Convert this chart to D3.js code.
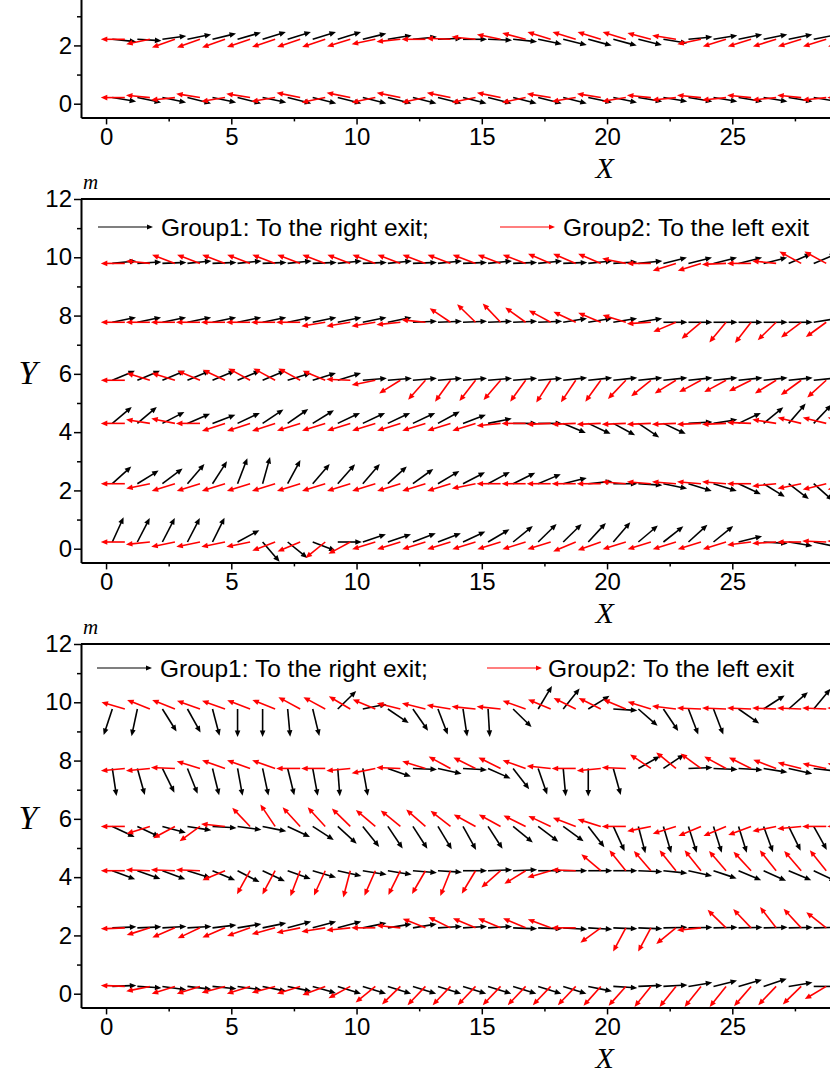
<!DOCTYPE html>
<html><head><meta charset="utf-8">
<script src="https://cdn.jsdelivr.net/npm/d3@7"></script>
<style>body{margin:0;background:#fff}svg{display:block}</style>
</head><body>
<svg id="c" width="830" height="1075"></svg>
<script>
// ---------- data ----------
const xTicks = [0, 5, 10, 15, 20, 25];
const xMinor = [2.5, 7.5, 12.5, 17.5, 22.5, 27.5];
const yTicks = [0, 2, 4, 6, 8, 10, 12];
const yMinor = [1, 3, 5, 7, 9, 11];
const blackStartX = 0.25;   // first Group1 vector tail (m)
const redStartX = 0.75;     // first Group2 vector tail (m)
const vectorLength = 0.96;  // m
const legendLabels = ["Group1: To the right exit;", "Group2: To the left exit"];

// vector directions in degrees (0 = +X, 90 = +Y), one entry per pedestrian, 1 m apart
const p1Rows = [0.21, 2.21];
const p1Black = [
 [-8,-10,-10,-12,-10,-12,-10,-12,-12,-12,-12,-12,-12,-12,-12,-12,-12,-12,-12,-10,-10,-8,-8,-8,-8,-8,-8,-8,-8],
 [-5,-3,7,10,12,14,15,15,15,15,12,8,5,2,0,-2,-5,-10,-12,-13,-13,-12,-8,5,8,10,10,10,10]
];
const p1Red = [
 [180,175,185,172,188,172,188,170,190,170,190,170,190,170,190,170,190,172,188,172,188,175,185,175,185,175,185,175,185,180],
 [180,190,197,197,197,196,196,196,196,195,190,185,180,178,175,170,167,165,165,165,165,167,172,190,195,195,195,195,195,195]
];

const p2Rows = [0.23, 2.23, 4.30, 5.78, 7.77, 9.79];
const p2Black = [
 [62,59,59,59,60,25,-45,-35,-18,0,16,16,18,18,22,27,35,40,40,43,45,36,34,38,35,12,-3,-8,-10],
 [38,28,33,45,53,66,72,58,45,44,45,38,32,27,24,25,23,20,12,5,0,-3,-10,-15,-15,-22,-28,-33,-37],
 [36,36,24,20,18,22,30,31,28,22,22,22,22,25,18,10,0,0,-20,-22,-25,-30,-22,3,8,22,35,45,42],
 [20,20,20,20,20,20,20,15,15,15,4,4,4,4,4,4,4,4,5,5,5,5,5,5,5,5,5,5,5],
 [10,10,10,10,10,10,10,10,10,10,10,10,2,2,2,2,2,2,8,8,8,8,0,0,0,0,0,0,8],
 [5,3,2,5,2,5,2,5,2,5,2,5,2,5,2,5,2,5,2,5,3,5,12,12,12,12,12,20,20]
];
const p2Red = [
 [180,185,190,190,190,190,198,200,215,205,195,195,195,195,195,195,195,195,200,197,195,195,195,195,195,186,183,180,178,178],
 [180,190,195,195,195,195,195,195,195,195,195,195,195,195,190,180,180,180,180,180,176,176,176,176,176,180,185,190,192,192],
 [180,172,170,180,196,196,196,195,195,195,195,195,195,195,195,185,180,182,182,182,182,182,182,182,182,178,172,168,168,168],
 [180,165,165,160,158,155,155,155,160,178,190,208,224,230,228,225,230,233,232,230,222,215,208,205,205,203,208,212,218,220],
 [180,180,180,180,180,180,180,180,188,188,188,185,175,150,140,138,148,155,158,160,165,183,200,216,226,228,220,213,212,210],
 [180,175,162,162,162,162,162,162,162,162,162,162,162,162,162,162,162,160,160,160,170,180,195,195,182,180,175,155,155,155]
];

const p3Rows = [0.25, 2.26, 4.22, 5.74, 7.73, 9.77];
const p3Black = [
 [2,-3,-7,-6,-5,-7,-10,-10,-14,-15,-15,-15,-15,-15,-15,-15,-15,-15,-15,-10,-3,2,3,8,12,14,16,8,0],
 [2,2,3,3,6,8,10,13,13,13,10,8,8,3,3,3,-2,-2,-3,-3,-2,-2,1,1,1,1,1,1,1],
 [-18,-17,-18,-15,-20,-24,-22,-17,-14,-11,-8,-8,-4,-3,0,2,2,0,0,0,0,-2,-5,-11,-16,-20,-21,-20,-22],
 [-22,-22,-13,-8,-3,-7,-10,-22,-29,-38,-47,-52,-53,-55,-57,-53,-35,-33,-32,-48,-62,-73,-71,-70,-70,-70,-67,-60,-57],
 [-80,-72,-60,-65,-74,-78,-76,-74,-78,-85,-78,-17,-2,-11,-3,-21,-48,-68,-84,-90,-72,26,30,2,-2,-3,-8,-11,-6],
 [249,256,-54,-57,-73,-90,-90,-84,-74,40,10,-30,-51,-66,-80,-86,-40,55,47,28,-3,-37,-52,-66,-66,-31,29,37,46]
];
const p3Red = [
 [178,190,195,195,193,195,193,195,198,205,215,220,222,222,222,222,222,222,222,224,224,227,227,227,227,225,222,220,207,140],
 [182,195,200,202,200,197,193,190,188,185,180,175,161,157,160,160,160,162,180,212,238,238,215,185,140,138,132,137,146,150],
 [180,178,178,178,200,237,238,246,242,253,243,240,236,245,235,217,208,194,178,144,133,135,133,133,135,137,133,135,133,133],
 [180,195,205,212,175,138,128,137,137,140,144,145,143,146,155,155,157,158,162,165,180,190,195,200,200,198,190,185,180,180],
 [185,185,178,165,163,163,163,180,180,185,190,178,165,155,157,157,163,175,180,185,178,150,145,148,155,157,162,168,170,170],
 [166,161,161,163,163,162,161,155,155,153,160,168,168,172,175,175,163,160,157,157,160,165,174,178,178,178,178,178,178,178]
];

// ---------- layout ----------
const W = 830;
const FONT = "'Liberation Sans', Arial, sans-serif";
const SERIF = "'Liberation Serif', 'Times New Roman', serif";
const panelH = 363.4;
const panels = [
  {top: -246, rows: p1Rows, black: p1Black, red: p1Red, legend: null},
  {top: 199, rows: p2Rows, black: p2Black, red: p2Red, legend: {y: 227, bx: 98, rx: 500, tb: 161, tr: 563}},
  {top: 644, rows: p3Rows, black: p3Black, red: p3Red, legend: {y: 668, bx: 97, rx: 487, tb: 160, tr: 548}}
];

const svg = d3.select("#c");
const x = d3.scaleLinear().domain([-1, 31]).range([81, 81 + 32 * 25.05]);

function arrowPath(x1, y1, x2, y2, hl, hw) {
  const dx = x2 - x1, dy = y2 - y1, len = Math.hypot(dx, dy) || 1;
  const ux = dx / len, uy = dy / len;
  const bx = x2 - ux * hl, by = y2 - uy * hl;
  return {
    line: [x1, y1, bx + ux * 0.8, by + uy * 0.8],
    head: `M${x2},${y2}L${bx - uy * hw},${by + ux * hw}L${bx + uy * hw},${by - ux * hw}Z`
  };
}

panels.forEach(p => {
  const y = d3.scaleLinear().domain([-0.47, 12]).range([p.top + panelH, p.top]);
  const g = svg.append("g");
  const bottom = y(-0.47);
  const shownY = yTicks.filter(v => y(v) > 12);

  // top frame line
  g.append("line").attr("x1", 81).attr("x2", W + 10)
    .attr("y1", p.top).attr("y2", p.top).attr("stroke", "#000").attr("stroke-width", 2);

  // axes
  const axB = g.append("g").attr("transform", `translate(0,${bottom})`)
    .call(d3.axisBottom(x).tickValues(xTicks).tickSize(7).tickSizeOuter(0).tickPadding(4));
  g.append("g").attr("transform", `translate(0,${bottom})`)
    .call(d3.axisBottom(x).tickValues(xMinor).tickSize(4).tickSizeOuter(0).tickFormat(""))
    .select(".domain").remove();
  const axL = g.append("g").attr("transform", `translate(81,0)`)
    .call(d3.axisLeft(y).tickValues(shownY).tickSize(7).tickSizeOuter(0).tickPadding(2));
  g.append("g").attr("transform", `translate(81,0)`)
    .call(d3.axisLeft(y).tickValues(yMinor).tickSize(4).tickSizeOuter(0).tickFormat(""))
    .select(".domain").remove();
  g.selectAll(".domain").attr("stroke-width", 2);
  g.selectAll(".tick line").attr("stroke-width", 1.5);
  [axB, axL].forEach(a => a.selectAll("text").attr("font-family", FONT).attr("font-size", 24).attr("fill", "#000"));

  // axis titles
  g.append("text").attr("x", x(19.9)).attr("y", bottom + 61).attr("text-anchor", "middle")
    .attr("font-family", SERIF).attr("font-style", "italic").attr("font-size", 30).text("X");
  if (p.top > 0) {
    g.append("text").attr("x", 28).attr("y", p.top + 185).attr("text-anchor", "middle")
      .attr("font-family", SERIF).attr("font-style", "italic").attr("font-size", 34).text("Y");
    g.append("text").attr("x", 83).attr("y", p.top - 10)
      .attr("font-family", SERIF).attr("font-style", "italic").attr("font-size", 21).text("m");
  }

  // vectors
  const vecs = [];
  p.rows.forEach((ry, r) => {
    [["#000000", p.black[r], blackStartX], ["#ff0000", p.red[r], redStartX]].forEach(([col, arr, x0]) => {
      arr.forEach((deg, i) => {
        if (deg == null) return;
        const tx = x0 + i, a = deg * Math.PI / 180;
        const hx = tx + vectorLength * Math.cos(a), hy = ry + vectorLength * Math.sin(a);
        vecs.push({col, ...arrowPath(x(tx), y(ry), x(hx), y(hy), 6.5, 2.8)});
      });
    });
  });
  const vg = g.append("g");
  const sel = vg.selectAll("g.v").data(vecs).join("g").attr("class", "v");
  sel.append("line")
    .attr("x1", d => d.line[0]).attr("y1", d => d.line[1])
    .attr("x2", d => d.line[2]).attr("y2", d => d.line[3])
    .attr("stroke", d => d.col).attr("stroke-width", 1.6);
  sel.append("path").attr("d", d => d.head).attr("fill", d => d.col);

  // legend
  if (p.legend) {
    const L = p.legend;
    [[L.bx, L.tb, "#000000", legendLabels[0]], [L.rx, L.tr, "#ff0000", legendLabels[1]]].forEach(([ax, tx, col, lab]) => {
      const ap = arrowPath(ax, L.y, ax + 55, L.y, 6, 2.4);
      g.append("line").attr("x1", ap.line[0]).attr("y1", ap.line[1]).attr("x2", ap.line[2]).attr("y2", ap.line[3])
        .attr("stroke", col).attr("stroke-width", 1.2);
      g.append("path").attr("d", ap.head).attr("fill", col);
      g.append("text").attr("x", tx).attr("y", L.y + 9).attr("font-family", FONT).attr("font-size", 24.5)
        .attr("fill", "#000").text(lab);
    });
  }
});
</script>
</body></html>
